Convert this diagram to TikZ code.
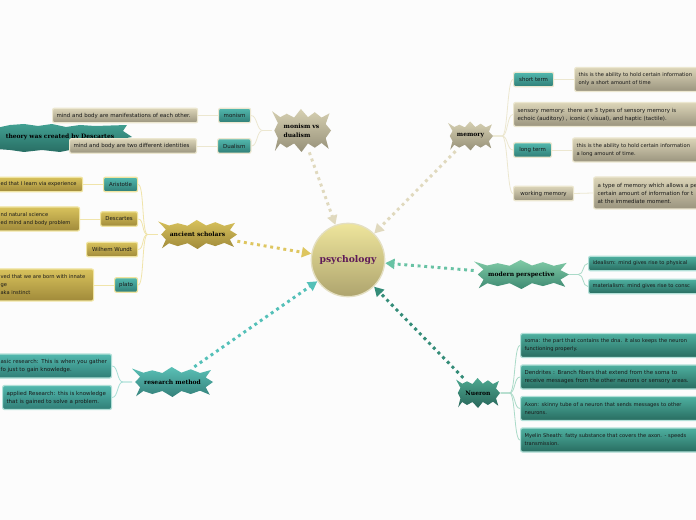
\documentclass[tikz,border=0pt]{standalone}
\usepackage{fontspec}
\setmainfont{DejaVu Sans}
\newfontfamily\headfont{DejaVu Serif}[BoldFont={DejaVu Serif Bold}]
\usetikzlibrary{arrows.meta}

\tikzset{every picture/.style={line width=0.75pt}}
\tikzset{
  box/.style={rounded corners=1.5pt,inner xsep=3pt,inner ysep=1pt,line width=0.9pt,font=\fontsize{4.1}{6}\selectfont,text=black!90,align=left},
  narrowtext/.style={font=\fontsize{3.85}{6}\selectfont},
  beigebox/.style={box,draw={rgb, 255:red, 236; green, 231; blue, 208 },top color={rgb, 255:red, 220; green, 213; blue, 184 },bottom color={rgb, 255:red, 154; green, 148; blue, 126 }},
  goldbox/.style={box,draw={rgb, 255:red, 240; green, 228; blue, 160 },top color={rgb, 255:red, 216; green, 194; blue, 92 },bottom color={rgb, 255:red, 160; green, 138; blue, 58 }},
  tealbox/.style={box,draw={rgb, 255:red, 178; green, 224; blue, 216 },top color={rgb, 255:red, 82; green, 184; blue, 174 },bottom color={rgb, 255:red, 48; green, 126; blue, 118 }},
  seabox/.style={tealbox,top color={rgb, 255:red, 78; green, 176; blue, 160 },bottom color={rgb, 255:red, 40; green, 108; blue, 96 }},
  head/.style={inner sep=0pt,font=\headfont\bfseries\fontsize{4.5}{7}\selectfont,text=black,align=left},
  beigeburst/.style={top color={rgb, 255:red, 214; green, 208; blue, 178 },bottom color={rgb, 255:red, 150; green, 144; blue, 120 }},
  goldburst/.style={top color={rgb, 255:red, 216; green, 194; blue, 92 },bottom color={rgb, 255:red, 160; green, 138; blue, 58 }},
  tealburst/.style={top color={rgb, 255:red, 90; green, 192; blue, 182 },bottom color={rgb, 255:red, 52; green, 128; blue, 122 }},
  greenburst/.style={top color={rgb, 255:red, 128; green, 202; blue, 166 },bottom color={rgb, 255:red, 62; green, 138; blue, 114 }},
  seaburst/.style={top color={rgb, 255:red, 78; green, 168; blue, 144 },bottom color={rgb, 255:red, 40; green, 102; blue, 90 }},
  branch/.style={line width=0.6pt},
  beigebranch/.style={branch,draw={rgb, 255:red, 236; green, 231; blue, 208 }},
  goldbranch/.style={branch,draw={rgb, 255:red, 240; green, 228; blue, 170 }},
  tealbranch/.style={branch,draw={rgb, 255:red, 168; green, 222; blue, 214 }},
  seabranch/.style={branch,draw={rgb, 255:red, 170; green, 218; blue, 200 }},
  mainlink/.style={line width=2.2pt,dash pattern={on 2.2pt off 2.8pt},-{Triangle[width=7.5pt,length=7pt]}},
}
% style, centre x, centre y, half width, half height
\newcommand{\burstshape}[5]{\draw [draw=none,#1,shift={(#2,#3)},xscale=#4,yscale=#5] (-1,-.9) -- (-.72,-.62) -- (-.5,-.78) -- (-.25,-.6) -- (-.02,-1) -- (.22,-.62) -- (.45,-.85) -- (.68,-.6) -- (.95,-.8) -- (.82,-.3) -- (1,0) -- (.82,.35) -- (.92,.85) -- (.68,.58) -- (.45,.8) -- (.22,.6) -- (0,1) -- (-.25,.6) -- (-.5,.8) -- (-.72,.6) -- (-.9,.95) -- (-.8,.35) -- (-.92,0) -- (-.8,-.35) -- cycle;}

\begin{document}
\begin{tikzpicture}[x=0.75pt,y=0.75pt,yscale=-1,xscale=1]
\useasboundingbox (0,0) rectangle (696,520);
\clip (0,0) rectangle (696,520);
\fill [white!99!black] (0,0) rectangle (696,520);

%Shape: Circle
\draw (348,260) node (psychology) [circle,minimum size=55pt,inner sep=0pt,line width=1pt,draw={rgb, 255:red, 228; green, 223; blue, 194 },top color={rgb, 255:red, 238; green, 229; blue, 156 },bottom color={rgb, 255:red, 174; green, 164; blue, 110 },font=\headfont\bfseries\fontsize{6.9}{8}\selectfont,text={rgb, 255:red, 94; green, 26; blue, 88 }] {psychology};

%Shape: Burst
\burstshape{beigeburst}{301.5}{130.5}{29.5}{21.5}
\burstshape{goldburst}{197.5}{234.5}{39.5}{14.5}
\burstshape{tealburst}{172.5}{382}{40.5}{15}
\burstshape{beigeburst}{470.5}{136}{22.5}{14.5}
\burstshape{greenburst}{521.5}{274.5}{47.5}{14.5}
\burstshape{seaburst}{478}{393}{22}{15}

% Text Node
\draw (301.5,130.5) node (monismdualism) [head,minimum width=44pt,minimum height=32pt] {monism vs\\dualism};
\draw (197.5,234.5) node (scholars) [head,minimum width=59pt,minimum height=22pt] {ancient scholars};
\draw (172.5,382) node (research) [head,minimum width=60pt,minimum height=22pt] {research method};
\draw (470.5,136) node (memory) [head,minimum width=33pt,minimum height=22pt] {memory};
\draw (521.5,274.5) node (modern) [head,minimum width=71pt,minimum height=22pt] {modern perspective};
\draw (478,393) node (nueron) [head,minimum width=33pt,minimum height=22pt] {Nueron};

%Shape: Banner
\draw [draw=none,top color={rgb, 255:red, 66; green, 160; blue, 146 },bottom color={rgb, 255:red, 40; green, 110; blue, 100 }] (-4,128) -- (10,125) -- (24,124) -- (38,126) -- (52,124) -- (66,127) -- (80,125) -- (95,126) -- (127,125) -- (123,131) -- (132,137) -- (110,141) -- (90,146) -- (70,150) -- (60,152) -- (42,150) -- (24,152) -- (10,150) -- (-4,149) -- cycle;
\draw (60,137) node (banner) [font=\headfont\bfseries\fontsize{4.5}{6}\selectfont] {theory was created by Descartes};

% Monism and dualism
\draw (218,115.5) node (monism) [anchor=west,tealbox,draw={rgb, 255:red, 236; green, 231; blue, 208 },minimum width=24pt,minimum height=11pt] {monism};
\draw (217,146) node (dualism) [anchor=west,tealbox,draw={rgb, 255:red, 236; green, 231; blue, 208 },minimum width=25pt,minimum height=11pt] {Dualism};
\draw (52,115.5) node (monismtext) [anchor=west,beigebox,text width=102.75pt,minimum height=11pt] {mind and body are manifestations of each other.};
\draw (69,146) node (dualismtext) [anchor=west,beigebox,text width=89.25pt,minimum height=11pt] {mind and body are two different identities};

% Ancient scholars
\draw (103,184.5) node (aristotle) [anchor=west,tealbox,draw={rgb, 255:red, 240; green, 228; blue, 160 },minimum width=25.5pt,minimum height=11pt] {Aristotle};
\draw (100,219) node (descartes) [anchor=west,goldbox,minimum width=27.75pt,minimum height=11pt] {Descartes};
\draw (86,249.5) node (wundt) [anchor=west,goldbox,minimum width=38.25pt,minimum height=11pt] {Wilhem Wundt};
\draw (114,285) node (plato) [anchor=west,tealbox,draw={rgb, 255:red, 240; green, 228; blue, 160 },minimum width=17.25pt,minimum height=11pt] {plato};
\draw (-4,184.5) node (aristotletext) [anchor=west,goldbox,narrowtext,text width=58.5pt,minimum height=11pt] {ed that I learn via experience};
\draw (-4,219) node (descartestext) [anchor=west,goldbox,narrowtext,text width=56.25pt,minimum height=18pt] {nd natural science\\ed mind and body problem};
\draw (-4,285) node (platotext) [anchor=west,goldbox,narrowtext,text width=66.75pt,minimum height=24pt] {ved that we are born with innate\\ge\\aka instinct};

% Research method
\draw (-4,366) node (basic) [anchor=west,tealbox,text width=80.25pt,minimum height=18pt] {asic research: This is when you gather\\fo just to gain knowledge.};
\draw (2,397.5) node (applied) [anchor=west,tealbox,text width=75.75pt,minimum height=18pt] {applied Research: this is knowledge\\that is gained to solve a problem.};

% Memory
\draw (513,79.5) node (shortterm) [anchor=west,tealbox,draw={rgb, 255:red, 236; green, 231; blue, 208 },minimum width=30pt,minimum height=11pt] {short term};
\draw (574,79.5) node (shorttext) [anchor=west,beigebox,narrowtext,text width=96pt,minimum height=18pt] {this is the ability to hold certain information\\only a short amount of time};
\draw (513,114.5) node (sensory) [anchor=west,beigebox,text width=141.75pt,minimum height=18pt] {sensory memory: there are 3 types of sensory memory is\\echoic (auditory) , iconic ( visual), and haptic (tactile).};
\draw (513,150) node (longterm) [anchor=west,tealbox,draw={rgb, 255:red, 236; green, 231; blue, 208 },minimum width=28.5pt,minimum height=11pt] {long term};
\draw (572,150) node (longtext) [anchor=west,beigebox,narrowtext,text width=97.5pt,minimum height=18pt] {this is the ability to hold certain information\\a long amount of time.};
\draw (513,193.5) node (working) [anchor=west,beigebox,minimum width=45pt,minimum height=11pt] {working memory};
\draw (593,193) node (workingtext) [anchor=west,beigebox,text width=81.75pt,minimum height=24pt] {a type of memory which allows a pe\\certain amount of information for t\\at the immediate moment.};

% Modern perspective
\draw (588,263.5) node (idealism) [anchor=west,seabox,narrowtext,text width=85.5pt,minimum height=11pt] {idealism: mind gives rise to physical};
\draw (588,286.5) node (materialism) [anchor=west,seabox,narrowtext,text width=85.5pt,minimum height=11pt] {materialism: mind gives rise to consc};

% Nueron
\draw (520,345.5) node (soma) [anchor=west,seabox,narrowtext,text width=136.5pt,minimum height=18pt] {soma: the part that contains the dna. it also keeps the neuron\\functioning properly.};
\draw (520,377) node (dendrites) [anchor=west,seabox,text width=136.5pt,minimum height=18pt] {Dendrites : Branch fibers that extend from the  soma to\\receive messages from the other neurons or sensory areas.};
\draw (520,408.5) node (axon) [anchor=west,seabox,narrowtext,text width=136.5pt,minimum height=18pt] {Axon: skinny tube of a neuron  that sends messages to other\\neurons.};
\draw (520,440) node (myelin) [anchor=west,seabox,narrowtext,text width=136.5pt,minimum height=18pt] {Myelin Sheath: fatty substance that covers the axon. - speeds\\transmission.};

% Branches on the left
\draw [beigebranch] (monismdualism.west) -- ++(-9,0) .. controls +(-6,0) and +(6,0) .. (monism.east);
\draw [beigebranch] (monismdualism.west) -- ++(-9,0) .. controls +(-6,0) and +(6,0) .. (dualism.east);
\draw [beigebranch] (monism.west) -- (monismtext.east);
\draw [beigebranch] (dualism.west) -- (dualismtext.east);
\draw [goldbranch] (scholars.west) -- ++(-10,0) .. controls +(-6,0) and +(6,0) .. (aristotle.east);
\draw [goldbranch] (scholars.west) -- ++(-10,0) .. controls +(-6,0) and +(6,0) .. (descartes.east);
\draw [goldbranch] (scholars.west) -- ++(-10,0) .. controls +(-6,0) and +(6,0) .. (wundt.east);
\draw [goldbranch] (scholars.west) -- ++(-10,0) .. controls +(-6,0) and +(6,0) .. (plato.east);
\draw [goldbranch] (aristotle.west) -- (aristotletext.east);
\draw [goldbranch] (descartes.west) -- (descartestext.east);
\draw [goldbranch] (plato.west) -- (platotext.east);
\draw [tealbranch] (research.west) -- ++(-9,0) .. controls +(-6,0) and +(6,0) .. (basic.east);
\draw [tealbranch] (research.west) -- ++(-9,0) .. controls +(-6,0) and +(6,0) .. (applied.east);

% Branches on the right
\draw [beigebranch] (memory.east) -- ++(9,0) .. controls +(6,0) and +(-6,0) .. (shortterm.west);
\draw [beigebranch] (memory.east) -- ++(9,0) .. controls +(6,0) and +(-6,0) .. (sensory.west);
\draw [beigebranch] (memory.east) -- ++(9,0) .. controls +(6,0) and +(-6,0) .. (longterm.west);
\draw [beigebranch] (memory.east) -- ++(9,0) .. controls +(6,0) and +(-6,0) .. (working.west);
\draw [beigebranch] (shortterm.east) -- (shorttext.west);
\draw [beigebranch] (longterm.east) -- (longtext.west);
\draw [beigebranch] (working.east) -- (workingtext.west);
\draw [seabranch] (modern.east) -- ++(9,0) .. controls +(6,0) and +(-6,0) .. (idealism.west);
\draw [seabranch] (modern.east) -- ++(9,0) .. controls +(6,0) and +(-6,0) .. (materialism.west);
\draw [seabranch] (nueron.east) -- ++(9,0) .. controls +(6,0) and +(-6,0) .. (soma.west);
\draw [seabranch] (nueron.east) -- ++(9,0) .. controls +(6,0) and +(-6,0) .. (dendrites.west);
\draw [seabranch] (nueron.east) -- ++(9,0) .. controls +(6,0) and +(-6,0) .. (axon.west);
\draw [seabranch] (nueron.east) -- ++(9,0) .. controls +(6,0) and +(-6,0) .. (myelin.west);

% Dotted arrows to the centre
\draw [mainlink,draw={rgb, 255:red, 224; green, 217; blue, 190 }] (monismdualism) -- (psychology);
\draw [mainlink,draw={rgb, 255:red, 224; green, 217; blue, 190 }] (memory) -- (psychology);
\draw [mainlink,draw={rgb, 255:red, 222; green, 198; blue, 96 }] (scholars) -- (psychology);
\draw [mainlink,draw={rgb, 255:red, 84; green, 192; blue, 184 }] (research) -- (psychology);
\draw [mainlink,draw={rgb, 255:red, 104; green, 194; blue, 164 }] (modern) -- (psychology);
\draw [mainlink,draw={rgb, 255:red, 52; green, 140; blue, 120 }] (nueron) -- (psychology);

\end{tikzpicture}
\end{document}
